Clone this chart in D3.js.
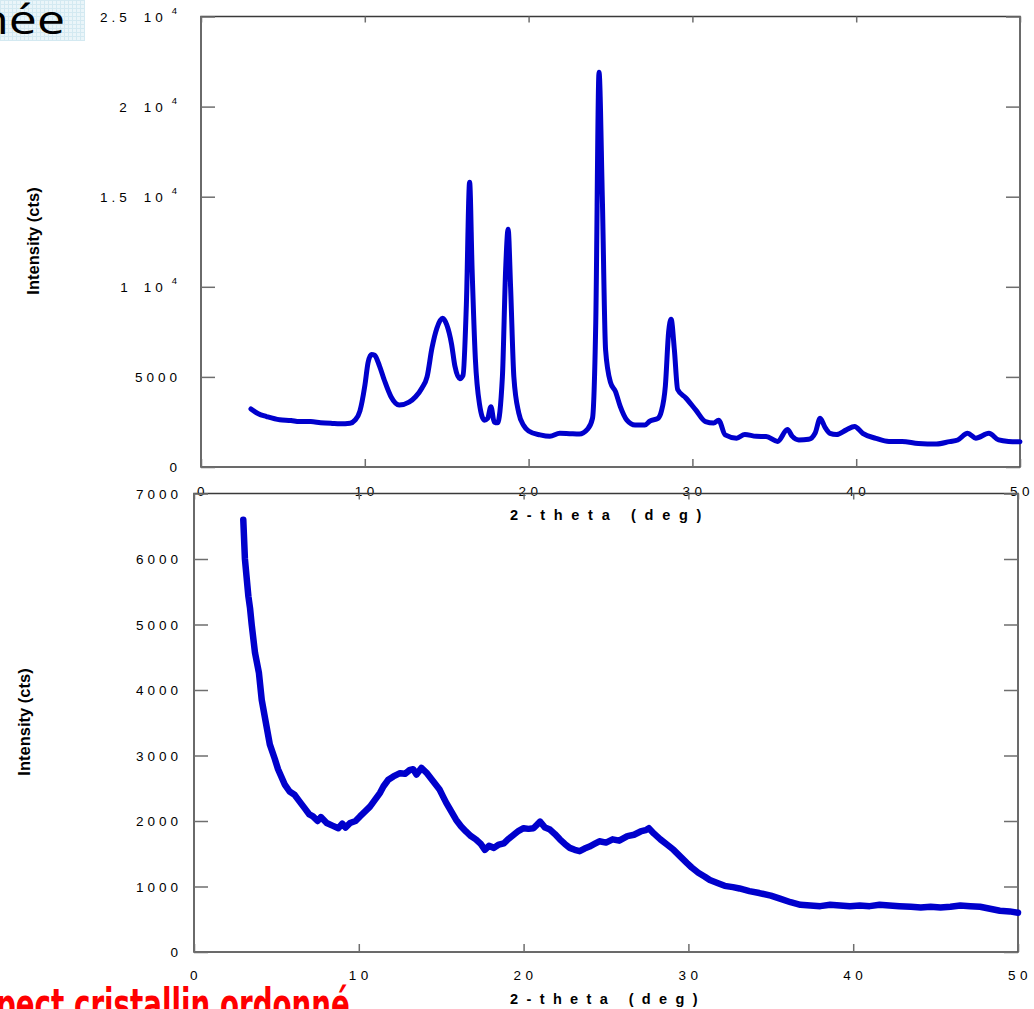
<!DOCTYPE html>
<html><head><meta charset="utf-8">
<script src="https://cdn.jsdelivr.net/npm/d3@7"></script>
<style>
html,body{margin:0;padding:0;background:#fff;overflow:hidden}
svg{display:block}
</style></head><body>
<svg id="c" width="1034" height="1009"></svg>
<script>
// ---------- DATA ----------
const topTheta = [3.05,3.5,4.0,4.8,5.5,6.0,6.7,7.3,8.0,8.5,9.1,9.4,9.7,10.0,10.2,10.4,10.6,10.9,11.2,11.6,12.1,12.7,13.1,13.5,13.8,14.1,14.4,14.75,15.0,15.3,15.5,15.8,16.0,16.2,16.4,16.55,16.75,17.0,17.3,17.5,17.7,17.9,18.1,18.4,18.6,18.75,18.9,19.1,19.4,19.7,20.0,20.7,21.3,21.9,22.5,23.1,23.6,23.9,24.1,24.3,24.5,24.7,25.0,25.3,25.6,26.0,26.5,27.1,27.4,27.9,28.1,28.35,28.55,28.7,28.9,29.1,29.6,30.2,30.8,31.3,31.6,32.0,32.7,33.2,33.9,34.5,35.2,35.8,36.1,36.5,37.1,37.5,37.8,38.1,38.4,38.8,39.4,39.9,40.4,41.2,42.0,42.8,43.8,44.9,45.7,46.2,46.8,47.3,48.1,48.7,49.3,50.0];
const topCounts = [3220,2950,2800,2620,2580,2520,2520,2460,2420,2400,2430,2600,3100,4500,5800,6250,6200,5600,4800,3900,3440,3600,3900,4400,5000,6600,7700,8250,7900,6800,5600,4900,5100,9000,15800,11000,6000,3500,2600,2700,3350,2500,2450,5000,11000,13200,10000,5000,3000,2300,2000,1780,1700,1870,1850,1830,2100,2700,8000,21900,15000,6500,4700,4200,3350,2600,2330,2330,2550,2700,3070,4500,7500,8200,6500,4300,3830,3170,2520,2440,2600,1780,1600,1810,1700,1690,1420,2080,1700,1500,1540,1900,2700,2200,1870,1800,2060,2250,1870,1590,1410,1420,1310,1280,1410,1500,1870,1600,1870,1500,1420,1400];

const botTheta = [2.99,3.09,3.2,3.3,3.4,3.5,3.7,3.94,4.11,4.31,4.6,4.9,5.1,5.5,5.8,6.1,6.4,6.7,7.0,7.22,7.5,7.7,8.05,8.4,8.76,9.0,9.2,9.47,9.8,10.07,10.4,10.68,11.0,11.29,11.5,11.79,12.1,12.5,12.8,13.1,13.3,13.5,13.8,14.1,14.5,14.9,15.1,15.3,15.6,15.9,16.2,16.5,16.8,17.1,17.4,17.65,17.9,18.2,18.5,18.8,19.1,19.4,19.7,20.0,20.3,20.6,21.0,21.3,21.6,21.9,22.2,22.5,22.8,23.1,23.4,23.7,24.0,24.3,24.6,25.0,25.4,25.8,26.3,26.7,27.1,27.4,27.6,27.9,28.3,28.7,29.1,29.5,29.9,30.2,30.6,31.0,31.3,31.8,32.2,32.7,33.1,33.7,34.3,35.0,35.6,36.2,36.8,37.4,38.0,38.6,39.2,39.8,40.4,41.0,41.6,42.2,42.8,43.5,44.1,44.7,45.3,45.9,46.5,47.1,47.7,48.3,48.9,49.5,50.0];
const botCounts = [6600,6000,5700,5430,5250,5000,4570,4260,3850,3570,3170,2950,2790,2560,2450,2400,2300,2200,2100,2070,2000,2060,1970,1930,1890,1960,1900,1970,2000,2070,2150,2220,2330,2430,2530,2630,2680,2730,2720,2780,2790,2710,2810,2740,2610,2480,2380,2280,2150,2020,1920,1840,1770,1720,1650,1560,1620,1590,1640,1660,1730,1790,1850,1890,1880,1890,1990,1900,1870,1800,1720,1650,1590,1560,1540,1580,1610,1650,1690,1670,1720,1700,1770,1790,1840,1860,1890,1810,1720,1640,1560,1460,1360,1290,1210,1150,1100,1050,1010,990,970,930,900,860,810,760,720,710,700,720,710,700,710,700,720,710,700,690,680,690,680,690,710,700,690,660,630,620,600];

const xTicks = [0,10,20,30,40,50];
const xTickLabels = ["0","10","20","30","40","50"];
const topYTicks = [0,5000,10000,15000,20000,25000];
const topYTickLabels = ["0","5000","1 10^4","1.5 10^4","2 10^4","2.5 10^4"];
const botYTicks = [0,1000,2000,3000,4000,5000,6000,7000];
const botYTickLabels = ["0","1000","2000","3000","4000","5000","6000","7000"];
const xTitle = "2-theta (deg)";
const yTitle = "Intensity (cts)";
const cornerWord = "née";
const bottomPhrase = "Aspect cristallin ordonné";

// ---------- DRAW ----------
const svg = d3.select("#c");
const LINE = "#0000cc";
const FONT = "'Liberation Sans', Arial, Helvetica, sans-serif";

// top-left decorative slide fragment
const defs = svg.append("defs");
const pat = defs.append("pattern").attr("id","grid").attr("width",4).attr("height",4).attr("patternUnits","userSpaceOnUse");
pat.append("rect").attr("width",4).attr("height",4).attr("fill","#eaf5f9");
pat.append("path").attr("d","M0,0.5H4M0.5,0V4").attr("stroke","#d3e9f1").attr("stroke-width",1);
svg.append("rect").attr("x",0).attr("y",0).attr("width",85).attr("height",41).attr("fill","url(#grid)");
svg.append("text").attr("transform","translate(65,34) scale(1.25,1)").attr("text-anchor","end")
  .attr("font-family","'Comic Sans MS','Open Sans',sans-serif").attr("font-size",40)
  .attr("fill","#000").text(cornerWord);

function panel(cfg){
  const x = d3.scaleLinear().domain([0,50]).range([cfg.left,cfg.right]);
  const y = d3.scaleLinear().domain(cfg.yDomain).range([cfg.bottom,cfg.top]);
  const g = svg.append("g");
  g.append("rect").attr("x",cfg.left).attr("y",cfg.top).attr("width",cfg.right-cfg.left).attr("height",cfg.bottom-cfg.top)
    .attr("fill","none").attr("stroke","#3a3a3a").attr("stroke-width",1.5);
  const ax = (sel, axis) => { sel.call(axis); sel.select(".domain").remove(); sel.selectAll("text").remove(); sel.selectAll("line").attr("stroke","#6e6e6e").attr("stroke-width",1.5); };
  g.append("g").attr("transform",`translate(0,${cfg.bottom})`).call(s=>ax(s,d3.axisBottom(x).tickValues(xTicks).tickSize(-8)));
  g.append("g").attr("transform",`translate(0,${cfg.top})`).call(s=>ax(s,d3.axisTop(x).tickValues(xTicks).tickSize(-6)));
  g.append("g").attr("transform",`translate(${cfg.left},0)`).call(s=>ax(s,d3.axisLeft(y).tickValues(cfg.yTicks).tickSize(-14)));
  g.append("g").attr("transform",`translate(${cfg.right},0)`).call(s=>ax(s,d3.axisRight(y).tickValues(cfg.yTicks).tickSize(-14)));

  const line = d3.line().x((d,i)=>x(cfg.xs[i])).y(d=>y(d)).curve(cfg.curve);
  g.append("path").datum(cfg.ys).attr("d",line).attr("fill","none").attr("stroke",LINE)
    .attr("stroke-width",cfg.lw).attr("stroke-linejoin","round").attr("stroke-linecap","round");

  g.selectAll(".xl").data(xTicks).enter().append("text")
    .attr("x",d=>x(d)+2).attr("y",cfg.bottom+cfg.xLabelDy).attr("text-anchor","middle")
    .attr("font-family",FONT).attr("font-size",13.5).attr("letter-spacing","4.5px").attr("fill","#000")
    .text((d,i)=>xTickLabels[i]);
  cfg.yTicks.forEach((v,i)=>{
    const lab = cfg.yLabels[i];
    const t = g.append("text").attr("x",cfg.yLabelX).attr("y",y(v)+5).attr("text-anchor","end")
      .attr("font-family",FONT).attr("font-size",13.5).attr("letter-spacing","4px").attr("fill","#000");
    if(lab.includes("^")){
      const [m,e] = lab.split("^");
      const parts = m.split(" ");
      t.append("tspan").text(parts[0]);
      t.append("tspan").attr("dx",13).text(parts[1]);
      t.append("tspan").attr("font-size",9.5).attr("dx",5).attr("dy",-8).text(e);
    } else t.text(lab);
  });
  const xt = g.append("text").attr("x",cfg.xTitleX).attr("y",cfg.xTitleY).attr("text-anchor","middle")
    .attr("font-family",FONT).attr("font-weight","bold").attr("font-size",14.5).attr("fill","#000").text(xTitle);
  const w0 = xt.node().getComputedTextLength();
  xt.attr("letter-spacing",((cfg.xTitleW - w0)/xTitle.length)+"px");
  g.append("text").attr("transform",`translate(${cfg.yTitleX},${cfg.yTitleY}) rotate(-90)`)
    .attr("text-anchor","middle").attr("dy","0.35em")
    .attr("font-family",FONT).attr("font-weight","bold").attr("font-size",cfg.yTitleSize).attr("fill","#000").text(yTitle);
}

panel({left:201,right:1020,top:16.5,bottom:467,yDomain:[0,25000],yTicks:topYTicks,yLabels:topYTickLabels,
  xs:topTheta,ys:topCounts,curve:d3.curveMonotoneX,lw:5,xLabelDy:29,yLabelX:181,
  xTitleX:610,xTitleY:520,xTitleW:200,yTitleX:33,yTitleY:241,yTitleSize:16.5});
panel({left:194,right:1018,top:493.5,bottom:952,yDomain:[0,7000],yTicks:botYTicks,yLabels:botYTickLabels,
  xs:botTheta,ys:botCounts,curve:d3.curveLinear,lw:6.5,xLabelDy:28,yLabelX:182,
  xTitleX:608,xTitleY:1004,xTitleW:196,yTitleX:24,yTitleY:722,yTitleSize:16.5});

// bottom-left red slide text fragment (clipped by page edge, as in the reference)
const red = svg.append("text").attr("x",0).attr("y",0)
  .attr("font-family","'Comic Sans MS','DejaVu Sans',sans-serif").attr("font-weight","bold").attr("font-size",42)
  .attr("fill","#ff0000").text(bottomPhrase);
const rw = red.node().getComputedTextLength();
red.attr("transform",`translate(-42,1019) scale(${392/rw},1)`);
</script>
</body></html>
